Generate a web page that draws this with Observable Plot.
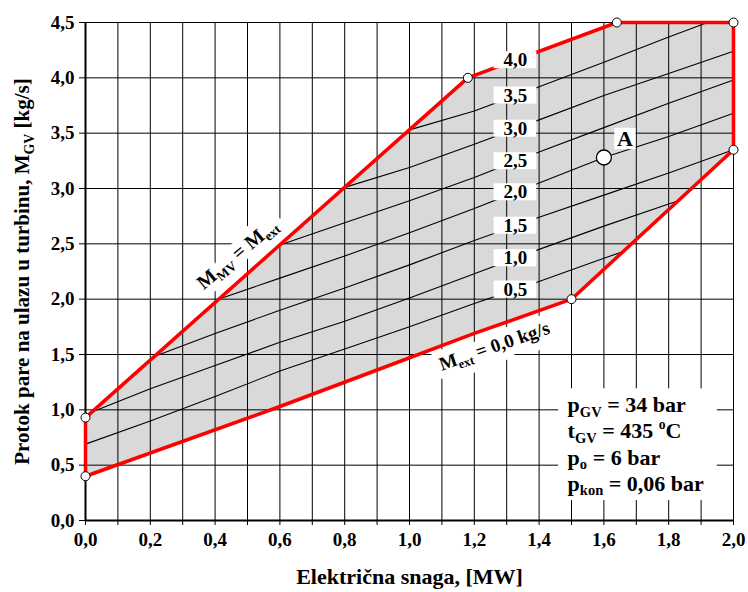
<!DOCTYPE html>
<html><head><meta charset="utf-8">
<script src="https://cdn.jsdelivr.net/npm/d3@7"></script>
<script src="https://cdn.jsdelivr.net/npm/@observablehq/plot@0.6"></script>
<style>body{margin:0;background:#fff;} svg{display:block}</style>
</head><body><div id="chart"></div>
<script>
// ---- data ----
const xTicks = [0,0.1,0.2,0.3,0.4,0.5,0.6,0.7,0.8,0.9,1.0,1.1,1.2,1.3,1.4,1.5,1.6,1.7,1.8,1.9,2.0];
const yTicks = [0,0.5,1.0,1.5,2.0,2.5,3.0,3.5,4.0,4.5];

// operating region boundary (P [MW], M_GV [kg/s])
const boundary = [[0,0.4],[0,0.93],[1.18,4.0],[1.64,4.5],[2.0,4.5],[2.0,3.35],[1.5,2.0],[1.2,1.69],[0.9,1.36],[0.6,1.03],[0.2,0.61],[0,0.4]];
const vertices = [[0,0.4],[0,0.93],[1.18,4.0],[1.64,4.5],[2.0,4.5],[2.0,3.35],[1.5,2.0]];

// extraction-flow contour lines M_ext
const contourLevels = [0.5,1.0,1.5,2.0,2.5,3.0,3.5,4.0];
const contourLabels = ["0,5","1,0","1,5","2,0","2,5","3,0","3,5","4,0"];
const ext05 = [[0,0.69],[0.2,0.90],[0.4,1.12],[0.6,1.35],[0.8,1.55],[1.0,1.75],[1.2,1.96],[1.4,2.16],[1.6,2.37],[1.66,2.43]];
const ext10 = [[0.02,0.98],[0.2,1.19],[0.4,1.40],[0.6,1.61],[0.8,1.80],[1.0,2.01],[1.2,2.23],[1.4,2.45],[1.6,2.66],[1.8,2.86],[1.83,2.89]];
const ext15 = [[0.21,1.48],[0.4,1.69],[0.6,1.90],[0.8,2.10],[1.0,2.31],[1.2,2.53],[1.4,2.74],[1.6,2.94],[1.8,3.14],[2.0,3.35]];
const ext20 = [[0.41,2.0],[0.6,2.19],[0.8,2.39],[1.0,2.60],[1.2,2.82],[1.4,3.05],[1.6,3.28],[1.8,3.47],[2.0,3.68]];
const ext25 = [[0.6,2.49],[0.8,2.69],[1.0,2.89],[1.2,3.10],[1.4,3.33],[1.6,3.55],[1.8,3.77],[2.0,3.98]];
const ext30 = [[0.8,3.01],[1.0,3.19],[1.2,3.40],[1.4,3.62],[1.6,3.84],[1.8,4.04],[2.0,4.24]];
const ext35 = [[1.0,3.53],[1.2,3.70],[1.4,3.92],[1.6,4.14],[1.8,4.37],[1.92,4.5]];
const ext40 = [[1.18,4.0],[1.64,4.5]];
const contourSeries = [ext05,ext10,ext15,ext20,ext25,ext30,ext35,ext40];

const pointA = [{x:1.6, y:3.28, name:"A"}];
const params = ["p_{GV} = 34 bar","t_{GV} = 435 ^{o}C","p_{o} = 6 bar","p_{kon} = 0,06 bar"];
const xTitle = "Električna snaga, [MW]";
const yTitle = "Protok pare na ulazu u turbinu, M_{GV} [kg/s]";
const upperLabel = "M_{MV} = M_{ext}";
const lowerLabel = "M_{ext} = 0,0 kg/s";

// ---- derived tables ----
const contours = contourSeries.flatMap((pts,i)=>pts.map(([x,y])=>({x,y,level:contourLevels[i]})));
const labelX = 1.327;
function interp(pts, x){
  for(let i=0;i<pts.length-1;i++){
    const [x0,y0]=pts[i],[x1,y1]=pts[i+1];
    if(x>=x0 && x<=x1) return y0+(y1-y0)*(x-x0)/(x1-x0);
  }
  return pts[pts.length-1][1];
}
const labelPts = contourSeries.map((pts,i)=>({x:labelX, y:interp(pts,labelX), text:contourLabels[i]}));

const fmt = d => d.toFixed(1).replace(".", ",");
const serif = "'Liberation Serif','Times New Roman',serif";
const upperOpts = {x: 0.468, y: 2.41, text: d => d, rotate: -40, fontSize: 20};
const lowerOpts = {x: 1.262, y: 1.575, text: d => d, rotate: -19, fontSize: 19};

const chart = Plot.plot({
  width: 748, height: 592,
  marginLeft: 85, marginRight: 15, marginTop: 22, marginBottom: 72,
  style: {fontFamily: serif, fontWeight: "bold", background: "white", color: "black"},
  x: {domain: [0, 2]},
  y: {domain: [0, 4.5]},
  marks: [
    Plot.line(boundary, {fill: "#d9d9d9", stroke: "none"}),
    Plot.ruleX(xTicks, {stroke: "black", strokeWidth: 1}),
    Plot.ruleY(yTicks, {stroke: "black", strokeWidth: 1}),
    Plot.ruleX([0], {stroke: "black", strokeWidth: 2}),
    Plot.ruleY([0], {stroke: "black", strokeWidth: 2}),
    Plot.line(contours, {x: "x", y: "y", z: "level", stroke: "black", strokeWidth: 1.1, strokeLinejoin: "round"}),
    // white halos behind the rotated labels, then the labels themselves
    Plot.text([upperLabel], {...upperOpts, fill: "white", stroke: "white", strokeWidth: 16}),
    Plot.text([lowerLabel], {...lowerOpts, fill: "white", stroke: "white", strokeWidth: 16}),
    Plot.text([upperLabel], {...upperOpts, fill: "black"}),
    Plot.text([lowerLabel], {...lowerOpts, fill: "black"}),
    Plot.line(boundary, {stroke: "#ff0000", strokeWidth: 3.5, strokeLinejoin: "miter"}),
    Plot.rect(labelPts, {x1: d => d.x - 0.066, x2: d => d.x + 0.066, y1: d => d.y - 0.077, y2: d => d.y + 0.077, fill: "white"}),
    Plot.text(labelPts, {x: "x", y: "y", text: "text", fontSize: 19, fill: "black"}),
    Plot.rect([0], {x1: 1.46, x2: 1.95, y1: 0.18, y2: 1.19, fill: "white"}),
    Plot.text(params, {x: 1.488, y: (d, i) => 0.978 - i * 0.236, text: d => d, textAnchor: "start", lineAnchor: "bottom", fontSize: 22, fill: "black"}),
    Plot.dot(vertices, {r: 4.5, fill: "white", stroke: "black", strokeWidth: 1}),
    Plot.dot(pointA, {x: "x", y: "y", dx: 21, dy: -19, symbol: "square", r: 12, fill: "white", stroke: "none"}),
    Plot.text(pointA, {x: "x", y: "y", dx: 21, dy: -19, text: "name", fontSize: 22, fill: "black"}),
    Plot.dot(pointA, {x: "x", y: "y", r: 7.5, fill: "white", stroke: "black", strokeWidth: 1.3}),
    Plot.axisX(xTicks, {tickSize: 5, tickPadding: 7, fontSize: 19, fontWeight: "bold", label: null, tickFormat: d => Math.round(d * 10) % 2 === 0 ? fmt(d) : ""}),
    Plot.axisY(yTicks, {tickSize: 6, tickPadding: 5, fontSize: 19, fontWeight: "bold", label: null, tickFormat: fmt}),
    Plot.text([xTitle], {frameAnchor: "bottom", dy: 56, text: d => d, textAnchor: "middle", lineAnchor: "middle", fontSize: 22, fill: "black"}),
    Plot.text([yTitle], {frameAnchor: "left", dx: -63, rotate: -90, text: d => d, textAnchor: "middle", lineAnchor: "middle", fontSize: 21, fill: "black"})
  ]
});
document.getElementById("chart").appendChild(chart);

// sub/superscript rendering as real text (tspans)
function richify(svg){
  svg.querySelectorAll("text").forEach(t => {
    const s = t.textContent;
    if (!/[_^]\{/.test(s)) return;
    const base = parseFloat(getComputedStyle(t).fontSize) || 16;
    while (t.firstChild) t.removeChild(t.firstChild);
    const re = /([_^])\{([^}]*)\}/g;
    let last = 0, m, shift = 0;
    const ns = "http://www.w3.org/2000/svg";
    const add = (str, kind) => {
      if (!str) return;
      const sp = document.createElementNS(ns, "tspan");
      let target = 0;
      if (kind === "_") { target = 0.22 * base; sp.setAttribute("font-size", (0.66 * base) + "px"); }
      if (kind === "^") { target = -0.42 * base; sp.setAttribute("font-size", (0.62 * base) + "px"); }
      if (target !== shift) { sp.setAttribute("dy", (target - shift) + "px"); shift = target; }
      sp.textContent = str;
      t.appendChild(sp);
    };
    while ((m = re.exec(s))) {
      add(s.slice(last, m.index), null);
      add(m[2], m[1]);
      last = re.lastIndex;
    }
    add(s.slice(last), null);
  });
}
richify(chart);
</script>
</body></html>
